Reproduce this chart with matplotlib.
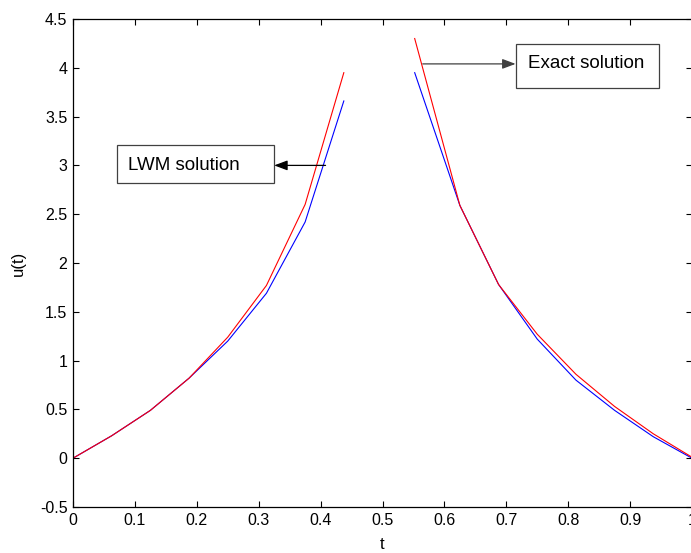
import matplotlib
matplotlib.use("Agg")
import matplotlib.pyplot as plt
from matplotlib.patches import Rectangle

plt.rcParams['font.family'] = ['Liberation Sans', 'DejaVu Sans']

# Left branch
t_left = [0.0, 0.0625, 0.125, 0.1875, 0.25, 0.3125, 0.375, 0.4375]
exact_left = [0.0, 0.23, 0.49, 0.82, 1.24, 1.77, 2.60, 3.95]
lwm_left = [0.0, 0.23, 0.49, 0.82, 1.20, 1.69, 2.42, 3.66]

# Right branch
t_right = [0.552, 0.625, 0.6875, 0.75, 0.8125, 0.875, 0.9375, 1.0]
exact_right = [4.30, 2.59, 1.78, 1.27, 0.86, 0.53, 0.25, 0.01]
lwm_right = [3.95, 2.59, 1.78, 1.22, 0.80, 0.49, 0.22, 0.0]

xticks = [0, 0.1, 0.2, 0.3, 0.4, 0.5, 0.6, 0.7, 0.8, 0.9, 1]
xticklabels = ['0', '0.1', '0.2', '0.3', '0.4', '0.5', '0.6', '0.7', '0.8', '0.9', '1']
yticks = [-0.5, 0, 0.5, 1, 1.5, 2, 2.5, 3, 3.5, 4, 4.5]
yticklabels = ['-0.5', '0', '0.5', '1', '1.5', '2', '2.5', '3', '3.5', '4', '4.5']

fig = plt.figure(figsize=(6.91, 5.53), dpi=100)
ax = fig.add_axes([73/691, 1-507/553, 619/691, (507-19)/553])

ax.plot(t_left, lwm_left, color='#0000ff', lw=0.8)
ax.plot(t_right, lwm_right, color='#0000ff', lw=0.8)
ax.plot(t_left, exact_left, color='#ff0000', lw=0.8)
ax.plot(t_right, exact_right, color='#ff0000', lw=0.8)

ax.set_xlim(0, 1)
ax.set_ylim(-0.5, 4.5)
ax.set_xticks(xticks)
ax.set_xticklabels(xticklabels)
ax.set_yticks(yticks)
ax.set_yticklabels(yticklabels)
ax.tick_params(direction='in', length=4, width=0.8, top=True, right=True,
               labelsize=11.5, pad=4)
for s in ax.spines.values():
    s.set_linewidth(0.9)
ax.set_xlabel('t', fontsize=12, labelpad=7)
ax.set_ylabel('u(t)', fontsize=12, labelpad=10)

# Annotation boxes
ax.add_patch(Rectangle((0.0712, 2.82), 0.325-0.0712, 3.21-2.82, fill=False,
                       edgecolor='#404040', lw=0.9, zorder=3))
ax.text(0.089, 3.0, 'LWM solution', fontsize=13.5, va='center', ha='left')
ax.annotate('', xy=(0.325, 3.0), xytext=(0.408, 3.0),
            arrowprops=dict(arrowstyle='-|>,head_length=0.8,head_width=0.3',
                            color='black', lw=0.9, shrinkA=0, shrinkB=0))

ax.add_patch(Rectangle((0.715, 3.79), 0.947-0.715, 4.245-3.79, fill=False,
                       edgecolor='#404040', lw=0.9, zorder=3))
ax.text(0.735, 4.04, 'Exact solution', fontsize=13.5, va='center', ha='left')
ax.annotate('', xy=(0.715, 4.04), xytext=(0.565, 4.04),
            arrowprops=dict(arrowstyle='-|>,head_length=0.8,head_width=0.3',
                            color='#404040', lw=0.9, shrinkA=0, shrinkB=0))

fig.savefig('out.png', dpi=100)
